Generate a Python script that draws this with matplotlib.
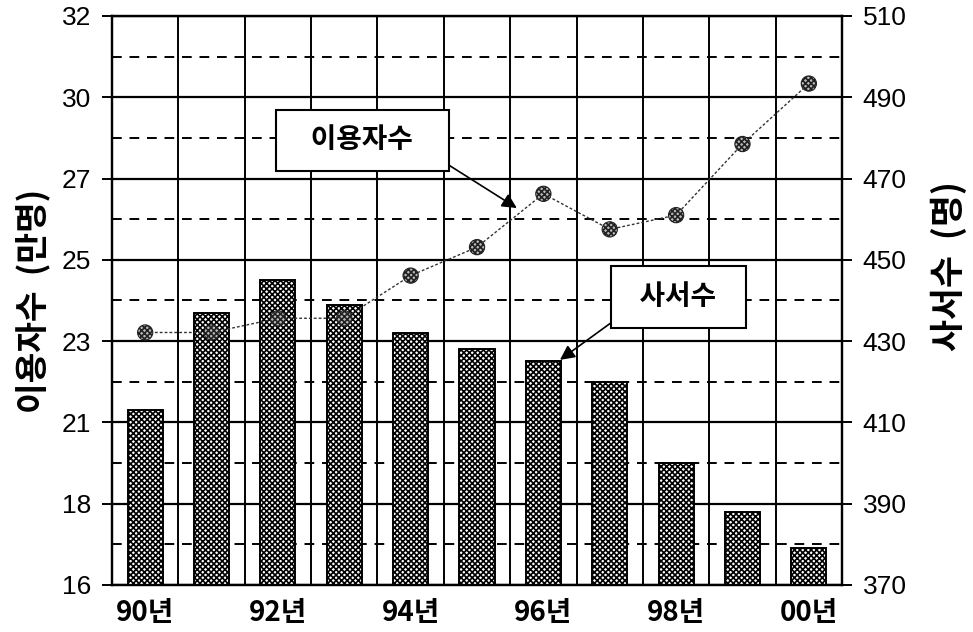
import numpy as np
import matplotlib
matplotlib.use("Agg")
import matplotlib.pyplot as plt

# data
years = ["90년", "91년", "92년", "93년", "94년", "95년", "96년", "97년", "98년", "99년", "00년"]
librarians = [413, 437, 445, 439, 432, 428, 425, 420, 400, 388, 379]  # 사서수 (명), bars, right axis
users = [23.1, 23.1, 23.5, 23.5, 24.7, 25.5, 27.0, 26.0, 26.4, 28.4, 30.1]  # 이용자수 (만명), line, left axis

left_lim = (16, 32)
right_ticks = [370, 390, 410, 430, 450, 470, 490, 510]

KR = ["Noto Sans CJK KR", "DejaVu Sans"]
NUM = ["Liberation Sans", "DejaVu Sans"]

plt.rcParams["hatch.linewidth"] = 1.2

fig = plt.figure(figsize=(9.73, 6.32), dpi=100)
ax = fig.add_axes([0.1151, 0.0744, 0.7503, 0.9003])
ax2 = ax.twinx()

# bars + grid live on the right axis, drawn underneath the line axis
ax.set_zorder(ax2.get_zorder() + 1)
ax.patch.set_visible(False)

x = np.arange(len(years))
ax2.bar(x, librarians, width=0.53, bottom=0, color="white", edgecolor="black",
        hatch="xxxxxx", linewidth=1.4, zorder=3)
ax2.set_ylim(right_ticks[0], right_ticks[-1])
ax2.set_yticks(right_ticks)
ax2.set_yticks(np.arange(380, 510, 20), minor=True)
ax2.set_axisbelow(True)

ax.set_xlim(-0.5, len(years) - 0.5)
ax.set_xticks(x[::2])
ax.set_xticklabels(years[::2], family=KR, fontsize=20, fontweight="bold")

ax2.grid(which="major", axis="y", color="black", linewidth=1.6)
ax2.grid(which="minor", axis="y", color="black", linewidth=1.4, linestyle=(0, (5, 4)))
# category separators
for b in np.arange(-0.5, len(years), 1):
    ax2.axvline(b, color="black", linewidth=1.4, zorder=1)

ax.plot(x, users, color="#333333", linestyle=(0, (2, 1.5)), linewidth=1.0, zorder=4)
ax.scatter(x, users, s=120, facecolor="#bbbbbb", edgecolor="#222222", hatch="xxxxxx",
           linewidth=0.8, zorder=5)

lticks = np.linspace(left_lim[0], left_lim[1], 8)
ax.set_ylim(*left_lim)
ax.set_yticks(lticks)
ax.set_yticklabels([f"{v:.0f}" for v in lticks], family=NUM, fontsize=19)
ax2.set_yticklabels([str(v) for v in right_ticks], family=NUM, fontsize=19)

ax.tick_params(axis="y", length=7, width=1.4, pad=8)
ax2.tick_params(axis="y", which="major", length=7, width=1.4, pad=8)
ax2.tick_params(axis="y", which="minor", length=0)
ax.tick_params(axis="x", which="both", length=0, pad=10)

for a in (ax, ax2):
    for s in a.spines.values():
        s.set_linewidth(1.6)

ax.set_ylabel("이용자수  (만명)", family=KR, fontsize=24, fontweight="bold", labelpad=8)
ax2.set_ylabel("사서수  (명)", family=KR, fontsize=25, fontweight="bold", rotation=90)
ax2.yaxis.set_label_coords(1.122, 0.56)

box = dict(boxstyle="square,pad=0.6", facecolor="white", edgecolor="black", linewidth=1.5)
ax.annotate("   이용자수   ", xy=(5.6, 26.6), xytext=(3.27, 28.5), family=KR, fontsize=20,
            fontweight="bold", ha="center", va="center", bbox=box, zorder=10,
            arrowprops=dict(arrowstyle="-|>", color="black", lw=1.2, mutation_scale=22,
                            relpos=(1, 0), shrinkA=0, shrinkB=0))
ax.annotate("  사서수  ", xy=(6.25, 22.33), xytext=(8.03, 24.1), family=KR, fontsize=20,
            fontweight="bold", ha="center", va="center", bbox=box, zorder=10,
            arrowprops=dict(arrowstyle="-|>", color="black", lw=1.2, mutation_scale=22,
                            relpos=(0, 0), shrinkA=0, shrinkB=0))

fig.savefig("out.png", dpi=100)
